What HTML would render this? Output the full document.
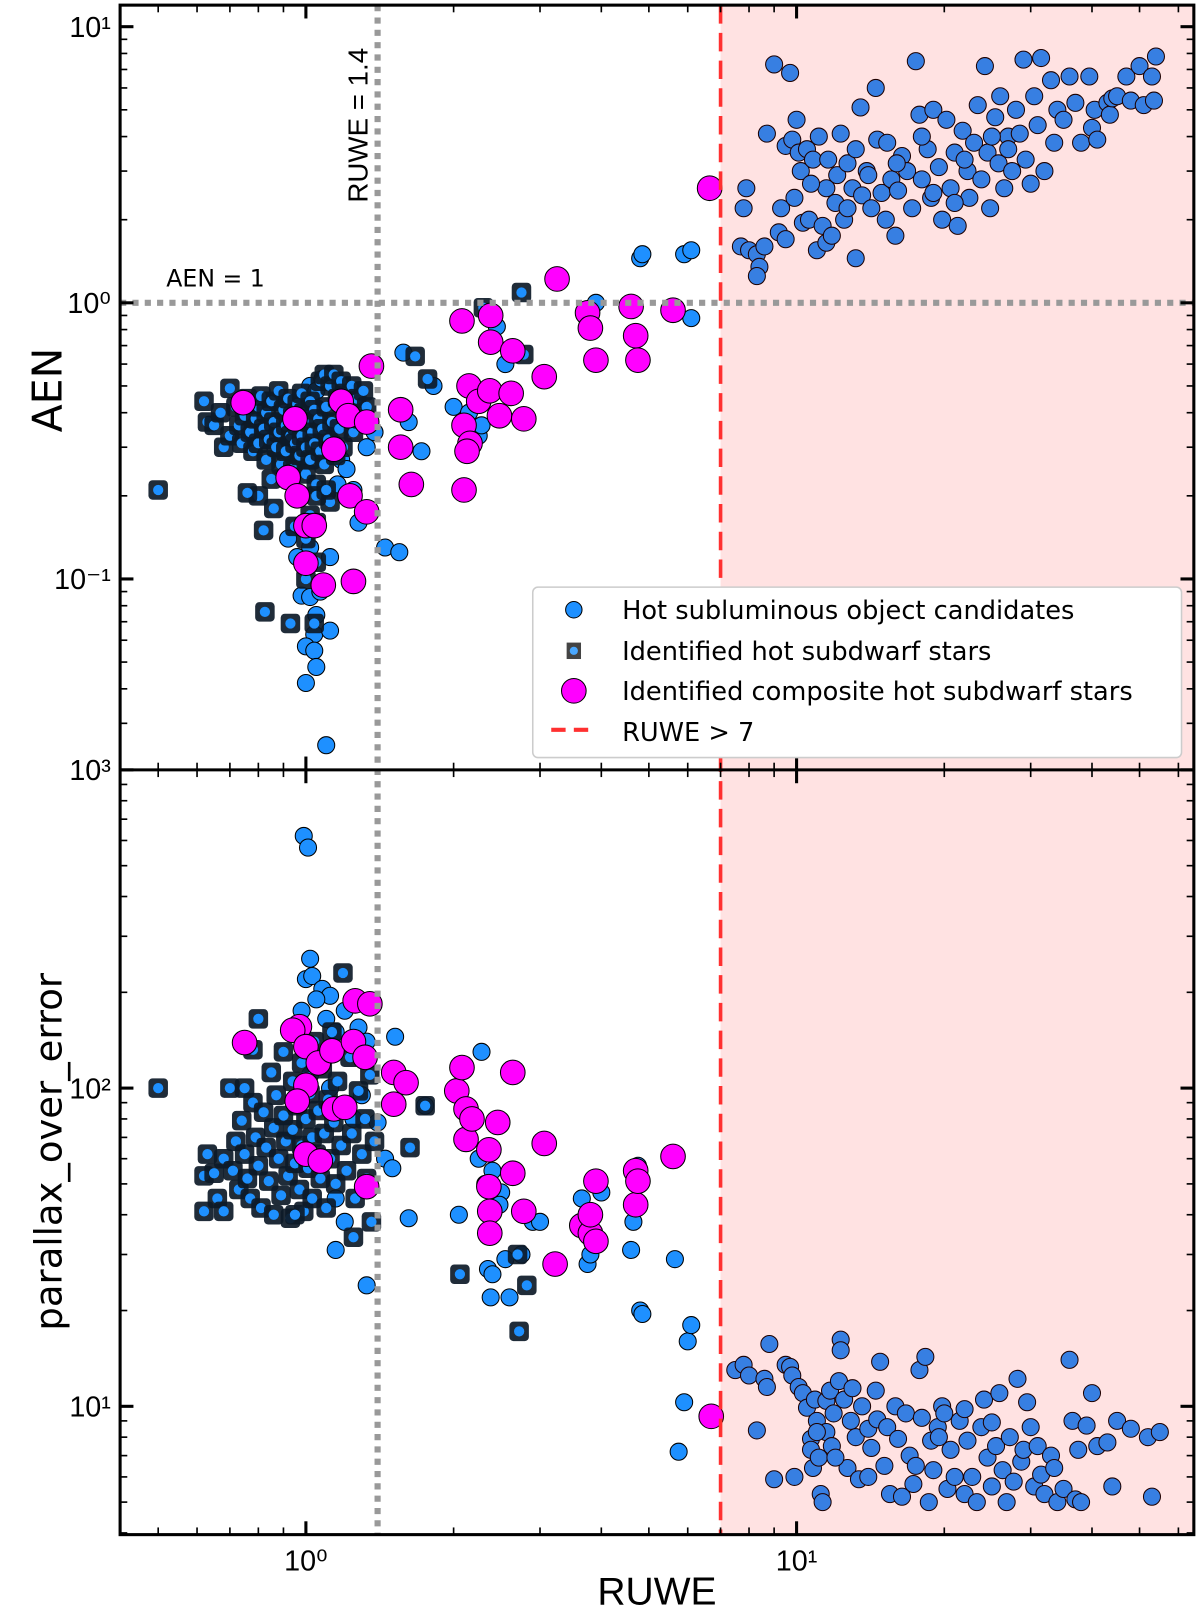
<!DOCTYPE html>
<html><head><meta charset="utf-8"><style>
html,body{margin:0;padding:0;background:#fff;}
svg{display:block;font-family:"DejaVu Sans","Liberation Sans",sans-serif;}
</style></head><body>
<svg id="chart" width="1200" height="1607" viewBox="0 0 1169 1565.5" preserveAspectRatio="none" xmlns="http://www.w3.org/2000/svg">
<g id="marks"></g>
</svg>
<script>
// ---- data (RUWE, value) ----
const topCand = [[1.02,0.50],[1.05,0.48],[1.08,0.53],[1.14,0.31],[1.18,0.27],[1.21,0.25],[1.25,0.21],[1.16,0.22],[1.02,0.13],[0.96,0.12],[0.98,0.087],[1.02,0.086],[1.07,0.09],[1.05,0.074],[1.04,0.063],[1.00,0.057],[1.04,0.055],[1.05,0.048],[1.0,0.042],[1.1,0.025],[0.92,0.14],[1.28,0.16],[1.12,0.12],[1.25,0.10],[1.12,0.065],[1.45,0.13],[1.55,0.125],[1.33,0.30],[1.38,0.34],[1.58,0.66],[1.72,0.29],[1.82,0.50],[2.0,0.42],[2.25,0.33],[2.28,0.36],[2.45,0.82],[2.55,0.60],[2.3,0.45],[3.9,1.0],[4.8,1.45],[4.85,1.5],[5.9,1.5],[6.1,1.55],[6.1,0.88],[2.15,0.40],[1.62,0.37],
[7.7,1.6],[8.0,1.55],[7.9,2.6],[7.8,2.2],[8.3,1.5],[8.4,1.35],[8.3,1.25],[8.6,1.6],[8.7,4.1],[9.0,7.3],[9.2,1.8],[9.3,2.2],[9.5,3.7],[9.5,1.7],[9.7,6.8],[9.8,3.9],[10.0,4.6],[10.1,3.5],[10.2,3.0],[10.3,1.95],[10.5,3.6],[10.6,2.0],[10.8,3.3],[11.0,1.55],[11.1,4.0],[11.3,1.9],[11.5,2.6],[11.5,1.65],[11.8,1.75],[12.0,2.3],[12.1,2.9],[12.3,4.1],[12.5,2.0],[12.7,3.2],[13.0,2.6],[13.2,1.45],[13.5,5.1],[13.6,2.45],[13.9,3.0],[14.2,2.2],[14.5,6.0],[14.6,3.9],[14.9,2.5],[15.3,3.8],[15.6,2.8],[15.9,1.75],[16.1,2.55],[16.4,3.4],[16.8,3.0],[17.2,2.2],[17.5,7.5],[17.8,4.8],[18.0,2.8],[18.5,3.6],[18.8,2.4],[19.0,5.0],[19.5,3.1],[19.8,2.0],[20.2,4.6],[20.6,2.6],[21.0,3.5],[21.3,1.9],[21.8,4.2],[22.3,3.0],[22.5,2.4],[23.0,3.8],[23.4,5.2],[23.8,2.8],[24.2,7.2],[24.5,3.5],[24.8,2.2],[25.4,4.7],[25.8,3.2],[26.0,5.6],[26.5,2.6],[27.0,4.0],[27.5,3.0],[28.0,5.0],[28.5,4.1],[29.0,7.6],[29.3,3.3],[30.0,2.7],[30.5,5.6],[31.0,4.4],[31.5,7.7],[32.0,3.0],[33.0,6.4],[33.5,3.8],[34.0,5.0],[35.0,4.6],[36.0,6.6],[37.0,5.3],[38.0,3.8],[39.5,6.6],[40.0,4.3],[40.5,5.0],[41.0,3.9],[43.0,5.3],[43.5,4.8],[44.0,5.5],[45.0,5.6],[47.0,6.6],[48.0,5.4],[50.0,7.2],[51.0,5.2],[53.0,6.6],[54.0,7.8],[53.5,5.4],[22.0,3.3],[19.0,2.5],[16.0,3.2],[12.7,2.2],[14.0,2.9],[25.0,4.0],[27.0,3.6],[18.0,4.0],[21.0,2.3],[11.6,3.3],[10.7,2.7],[9.9,2.4],[13.2,3.6],[15.2,2.0]];
const topSd = [[0.62,0.44],[0.63,0.37],[0.65,0.36],[0.67,0.40],[0.68,0.30],[0.70,0.49],[0.70,0.33],[0.72,0.42],[0.73,0.36],[0.74,0.31],[0.75,0.39],[0.76,0.45],[0.77,0.34],[0.78,0.29],[0.79,0.38],[0.80,0.42],[0.80,0.31],[0.81,0.46],[0.82,0.35],[0.83,0.27],[0.83,0.40],[0.84,0.32],[0.85,0.44],[0.85,0.23],[0.86,0.37],[0.87,0.30],[0.88,0.48],[0.88,0.34],[0.89,0.26],[0.90,0.41],[0.91,0.36],[0.91,0.29],[0.92,0.45],[0.93,0.33],[0.94,0.39],[0.94,0.25],[0.95,0.31],[0.96,0.43],[0.96,0.36],[0.97,0.28],[0.98,0.47],[0.98,0.33],[0.99,0.40],[1.00,0.30],[1.00,0.24],[1.01,0.37],[1.02,0.44],[1.02,0.27],[1.03,0.34],[1.04,0.41],[1.04,0.31],[1.05,0.22],[1.06,0.38],[1.07,0.52],[1.07,0.29],[1.08,0.35],[1.09,0.55],[1.09,0.26],[1.10,0.42],[1.11,0.32],[1.12,0.50],[1.12,0.19],[1.13,0.37],[1.14,0.55],[1.15,0.28],[1.16,0.45],[1.17,0.35],[1.18,0.52],[1.19,0.30],[1.20,0.47],[1.22,0.40],[1.24,0.50],[1.25,0.34],[1.27,0.45],[1.29,0.38],[1.31,0.48],[1.33,0.42],[1.05,0.20],[1.02,0.17],[0.95,0.155],[1.00,0.14],[1.05,0.115],[1.0,0.10],[0.82,0.15],[0.86,0.18],[0.80,0.20],[1.05,0.16],[1.10,0.21],[0.5,0.21],[0.76,0.205],[0.825,0.076],[0.93,0.069],[1.04,0.069],[1.67,0.64],[1.77,0.53],[2.3,0.96],[2.75,1.09],[2.78,0.65]];
const topComp = [[0.745,0.435],[0.95,0.38],[0.92,0.233],[0.96,0.20],[1.0,0.156],[1.04,0.156],[1.0,0.114],[1.085,0.095],[1.25,0.098],[1.14,0.295],[1.18,0.44],[1.22,0.39],[1.33,0.37],[1.23,0.20],[1.33,0.175],[1.36,0.59],[1.56,0.41],[1.56,0.30],[1.64,0.22],[2.08,0.86],[2.38,0.90],[2.38,0.72],[2.1,0.36],[2.15,0.50],[2.16,0.31],[2.1,0.21],[2.13,0.29],[2.25,0.44],[2.37,0.48],[2.48,0.39],[2.62,0.47],[2.78,0.38],[2.64,0.67],[3.06,0.54],[3.25,1.22],[3.75,0.92],[3.8,0.81],[3.9,0.62],[4.6,0.97],[4.7,0.76],[4.75,0.62],[5.6,0.94],[6.65,2.6]];
const botCand = [[0.99,620],[1.01,570],[1.02,255],[1.0,220],[1.03,225],[1.08,205],[1.12,195],[1.05,190],[0.98,175],[1.1,165],[1.15,150],[1.2,175],[1.28,155],[1.33,140],[1.52,145],[1.12,100],[1.02,110],[1.3,95],[1.25,80],[1.4,78],[1.45,60],[1.5,56],[1.15,45],[1.15,31],[1.33,24],[1.62,39],[1.2,38],[2.32,50],[2.25,60],[2.4,55],[2.5,47],[2.48,43],[2.28,130],[2.05,40],[2.35,27],[2.4,26],[2.38,22],[2.55,29],[2.6,22],[2.9,38],[3.0,38],[3.65,45],[3.75,28],[3.8,30],[4.0,47],[4.65,38],[4.75,57],[4.6,31],[4.8,20],[4.85,19.5],[5.65,29],[6.0,16],[6.1,18],[5.9,10.3],[5.75,7.2],[1.75,88],[2.75,30],
[7.5,13],[7.8,13.5],[8.0,12.5],[8.3,8.4],[8.6,12.2],[8.7,11.5],[8.8,15.7],[9.0,5.9],[9.5,13.5],[9.7,13.3],[9.8,12.5],[9.9,6.0],[10.1,11.5],[10.3,11.0],[10.5,9.9],[10.7,7.9],[10.7,7.3],[10.8,6.4],[10.9,10.5],[11.0,9.0],[11.1,6.9],[11.2,5.3],[11.3,5.0],[11.5,10.4],[11.5,8.3],[11.7,11.2],[11.8,7.5],[11.9,9.5],[12.2,12.0],[12.3,16.2],[12.3,15.0],[12.5,10.5],[12.7,6.4],[12.9,9.0],[13.0,11.4],[13.2,8.0],[13.4,5.9],[13.6,10.0],[14.0,8.5],[14.2,7.4],[14.5,11.2],[14.6,9.1],[14.8,13.8],[15.1,6.5],[15.3,8.6],[15.5,5.3],[15.9,10.0],[16.1,7.9],[16.4,5.2],[16.7,9.5],[17.0,7.0],[17.3,5.7],[17.8,13.0],[18.0,9.2],[18.3,14.3],[18.6,5.0],[18.8,7.8],[19.0,6.3],[19.4,8.6],[19.8,10.0],[20.0,9.5],[20.3,5.5],[20.6,7.3],[21.0,6.0],[21.5,9.0],[22.0,5.3],[22.3,7.8],[22.8,6.0],[23.3,5.0],[23.8,8.6],[24.1,10.5],[24.5,6.9],[25.0,5.6],[25.5,7.5],[25.9,11.0],[26.3,6.3],[26.8,5.0],[27.2,8.0],[27.7,5.8],[28.2,12.2],[28.7,6.7],[29.0,7.3],[29.5,10.3],[30.0,8.6],[30.5,5.6],[31.0,7.5],[31.5,6.1],[32.0,5.3],[33.0,7.0],[34.0,5.0],[35.0,5.5],[36.0,14.0],[36.5,9.0],[37.0,5.1],[37.5,7.3],[38.0,5.0],[39.0,8.7],[40.0,11.0],[41.0,7.5],[43.0,7.7],[44.0,5.6],[45.0,9.0],[48.0,8.5],[52.0,8.0],[53.0,5.2],[55.0,8.3],[14.0,6.0],[22.0,9.8],[19.5,8.0],[25.0,8.9],[33.5,6.4],[17.5,6.5],[12.0,6.9],[11.0,8.3]];
const botSd = [[0.62,53],[0.62,41],[0.63,62],[0.65,54],[0.66,45],[0.68,60],[0.68,41],[0.70,100],[0.71,55],[0.72,68],[0.73,48],[0.74,79],[0.75,62],[0.76,52],[0.77,45],[0.78,90],[0.79,70],[0.80,57],[0.80,165],[0.81,42],[0.82,84],[0.83,65],[0.84,51],[0.85,112],[0.86,75],[0.86,40],[0.87,95],[0.88,60],[0.89,46],[0.90,130],[0.90,82],[0.91,68],[0.92,53],[0.93,39],[0.94,105],[0.94,74],[0.95,58],[0.96,88],[0.97,48],[0.98,120],[0.98,66],[0.99,41],[1.00,80],[1.01,56],[1.02,96],[1.03,70],[1.03,45],[1.04,140],[1.05,62],[1.06,85],[1.07,52],[1.08,115],[1.09,72],[1.10,42],[1.11,92],[1.12,60],[1.13,150],[1.14,78],[1.15,50],[1.16,105],[1.18,66],[1.19,230],[1.20,88],[1.21,55],[1.23,125],[1.24,72],[1.26,45],[1.28,98],[1.30,62],[1.32,80],[1.33,52],[1.35,110],[1.38,68],[1.36,38],[0.5,100],[2.06,26],[2.7,30],[2.82,24],[2.72,17.2],[1.75,88],[1.63,65],[0.95,40],[1.25,34],[0.75,100],[0.78,132]];
const botComp = [[0.75,139],[0.97,156],[0.94,152],[1.0,102],[0.96,91],[1.0,135],[1.06,120],[1.13,131],[1.25,140],[1.26,188],[1.35,184],[1.32,125],[1.14,86],[1.2,87],[1.0,62],[1.07,59],[1.33,49],[1.51,112],[1.6,104],[1.51,89],[2.03,98],[2.08,116],[2.12,86],[2.12,69],[2.18,80],[2.46,78],[2.36,64],[2.36,49],[2.37,41],[2.37,35],[2.64,54],[2.64,112],[2.78,41],[3.06,67],[3.22,28],[3.65,37],[3.8,35],[3.9,33],[3.9,51],[3.8,40],[4.7,55],[4.7,43],[4.75,51],[5.6,61],[6.7,9.3]];
const xTickLabels = ["10⁰","10¹"];
const topTickLabels = ["10¹","10⁰","10⁻¹"];
const botTickLabels = ["10³","10²","10¹"];
const ruweLimit = 7, ruweLine = 1.4, aenLine = 1;

// ---- layout ----
const L=117,R=1163,T=5,M=750,B=1495;
const X = r => 298 + 478*Math.log10(r);
const YT = a => 295 - 269*Math.log10(a);
const YB = p => 1060 - 310*(Math.log10(p)-2);
const NS="http://www.w3.org/2000/svg";
const svg=document.getElementById('chart');
function mk(tag,attrs,parent){const e=document.createElementNS(NS,tag);for(const k in attrs)e.setAttribute(k,attrs[k]);(parent||svg).appendChild(e);return e;}

const gClipT=mk('clipPath',{id:'ct'});mk('rect',{x:L,y:T,width:R-L,height:M-T},gClipT);
const gClipB=mk('clipPath',{id:'cb'});mk('rect',{x:L,y:M,width:R-L,height:B-M},gClipB);

function panel(cand,sd,comp,Y,clip,name){
  const g=mk('g',{'clip-path':'url(#'+clip+')'});
  
  
  cand.forEach(d=>{const c=mk('circle',{cx:X(d[0]),cy:Y(d[1]),r:8.3,fill:'#1e90ff',stroke:'#000','stroke-width':1},g);
    
    });
  sd.forEach(d=>{const x=X(d[0]),y=Y(d[1]);
    const s=mk('rect',{x:x-9.5,y:y-9.5,width:19,height:19,rx:4,fill:'#0d1a28','fill-opacity':0.92},g);
    
    
    const c=mk('circle',{cx:x,cy:y,r:5,fill:'#1e90ff'},g);
    
    });
  comp.forEach(d=>{const c=mk('circle',{cx:X(d[0]),cy:Y(d[1]),r:12,fill:'#ff00ff',stroke:'#000','stroke-width':1},g);
    
    });
}
panel(topCand,topSd,topComp,YT,'ct','top-panel');
panel(botCand,botSd,botComp,YB,'cb','bottom-panel');

// pink region
const pk=mk('rect',{x:X(ruweLimit),y:T,width:R-X(ruweLimit),height:B-T,fill:'#ff0000','fill-opacity':0.115});


// reference lines
const vl=mk('line',{x1:X(ruweLine),x2:X(ruweLine),y1:T,y2:B,stroke:'#999','stroke-width':6,'stroke-dasharray':'6,6'});


const hl=mk('line',{x1:L,x2:R,y1:YT(aenLine),y2:YT(aenLine),stroke:'#999','stroke-width':6,'stroke-dasharray':'6,6'});


const rl=mk('line',{x1:X(ruweLimit),x2:X(ruweLimit),y1:T,y2:B,stroke:'#ff3030','stroke-width':3.5,'stroke-dasharray':'18,9'});



// annotations
const t1=mk('text',{x:0,y:0,transform:'translate('+(X(ruweLine)-10)+',122) rotate(-90)','text-anchor':'middle','font-size':27,fill:'#000','font-family':'"Liberation Sans Narrow","Liberation Sans",sans-serif'});t1.textContent='RUWE = 1.4';


const t2=mk('text',{x:162,y:279,'font-size':23,fill:'#000'});t2.textContent='AEN = 1';



// ticks
function ticks(y0,y1,Yf,lo,hi){
  const g=mk('g',{stroke:'#000','stroke-width':1.6});
  
  
  for(let e=-1;e<=1;e++)for(let m=1;m<10;m++){const v=m*Math.pow(10,e);const x=X(v);if(x<L||x>R)continue;const len=m==1?13:7;const w=m==1?3:1.6;
    mk('line',{x1:x,x2:x,y1:y0,y2:y0+len,'stroke-width':w},g);mk('line',{x1:x,x2:x,y1:y1,y2:y1-len,'stroke-width':w},g);}
  for(let e=lo;e<=hi;e++)for(let m=1;m<10;m++){const v=m*Math.pow(10,e);const y=Yf(v);if(y<y0-0.5||y>y1+0.5)continue;const len=m==1?13:7;const w=m==1?3:1.6;
    mk('line',{x1:L,x2:L+len,y1:y,y2:y,'stroke-width':w},g);mk('line',{x1:R,x2:R-len,y1:y,y2:y,'stroke-width':w},g);}
}
ticks(T,M,YT,-2,1);
ticks(M,B,YB,0,3);

// frames
const fr=mk('rect',{x:L,y:T,width:R-L,height:B-T,fill:'none',stroke:'#000','stroke-width':3});


const sep=mk('line',{x1:L,x2:R,y1:M,y2:M,stroke:'#000','stroke-width':3});



// tick labels
const fontN='"Liberation Sans Narrow","Liberation Sans",sans-serif';
[1,10].forEach((v,i)=>{const t=mk('text',{x:X(v),y:1530,'text-anchor':'middle','font-size':28,'font-family':fontN});t.textContent=xTickLabels[i];
  
  });
[10,1,0.1].forEach((v,i)=>{const t=mk('text',{x:L-9,y:YT(v)+10,'text-anchor':'end','font-size':28,'font-family':fontN});t.textContent=topTickLabels[i];
  
  });
[1000,100,10].forEach((v,i)=>{const t=mk('text',{x:L-9,y:YB(v)+10,'text-anchor':'end','font-size':28,'font-family':fontN});t.textContent=botTickLabels[i];
  
  });

// axis titles
const xt=mk('text',{x:640,y:1563,'text-anchor':'middle','font-size':38,'font-family':fontN});xt.textContent='RUWE';


const yt1=mk('text',{transform:'translate(60,380) rotate(-90)','text-anchor':'middle','font-size':40});yt1.textContent='AEN';


const yt2=mk('text',{transform:'translate(60,1122) rotate(-90)','text-anchor':'middle','font-size':36});yt2.textContent='parallax_over_error';



// legend
const lg=mk('g',{});


mk('rect',{x:519,y:572,width:632,height:166,rx:5,fill:'#fff',stroke:'#ccc','stroke-width':1.5},lg);
const rows=[594,634,673,713];
const labels=['Hot subluminous object candidates','Identified hot subdwarf stars','Identified composite hot subdwarf stars','RUWE > 7'];
const c1=mk('circle',{cx:559,cy:rows[0],r:8,fill:'#1e90ff',stroke:'#000','stroke-width':1},lg);


mk('rect',{x:552,y:rows[1]-8,width:14,height:16,fill:'#444'},lg);
mk('circle',{cx:559,cy:rows[1],r:4,fill:'#4aa8ff'},lg);
mk('circle',{cx:559,cy:rows[2],r:12,fill:'#ff00ff',stroke:'#000','stroke-width':1},lg);
mk('line',{x1:537,x2:577,y1:rows[3]-2,y2:rows[3]-2,stroke:'#ff3030','stroke-width':4,'stroke-dasharray':'14,8'},lg);
labels.forEach((s,i)=>{const t=mk('text',{x:606,y:rows[i]+9,'font-size':25},lg);t.textContent=s;
  
  });
</script>
</body></html>
